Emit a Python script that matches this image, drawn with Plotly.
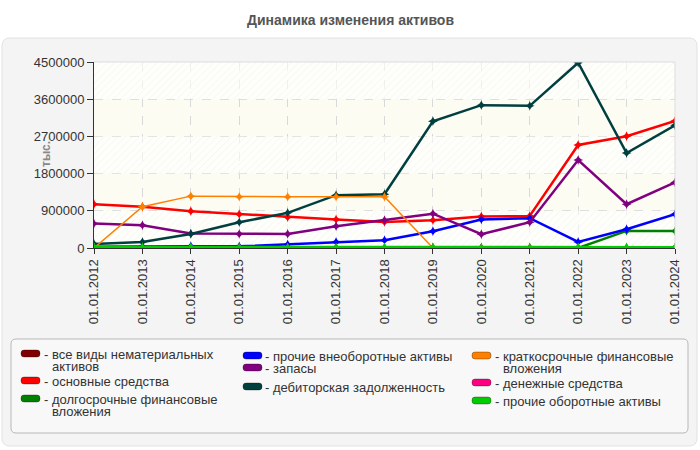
import textwrap
import plotly.graph_objects as go

# ---- data ----
dates = ["01.01.2012", "01.01.2013", "01.01.2014", "01.01.2015", "01.01.2016",
         "01.01.2017", "01.01.2018", "01.01.2019", "01.01.2020", "01.01.2021",
         "01.01.2022", "01.01.2023", "01.01.2024"]

intangible = [0, 0, 0, 0, 0, 0, 0, 0, 0, 0, 0, 0, 0]
fixed_assets = [1060000, 1000000, 890000, 818000, 745000, 690000, 631000,
                672000, 762000, 777000, 2493000, 2704000, 3075000]
long_fin = [0, 0, 0, 0, 0, 0, 0, 0, 0, 0, 0, 413000, 410000]
other_noncurrent = [30000, 40000, 45000, 40000, 90000, 146000, 187000,
                    405000, 689000, 721000, 146000, 454000, 818000]
inventory = [592000, 551000, 350000, 340000, 340000, 527000, 672000,
             830000, 333000, 624000, 2129000, 1060000, 1587000]
receivables = [97000, 146000, 340000, 624000, 850000, 1279000, 1303000,
               3068000, 3456000, 3439000, 4483000, 2298000, 2970000]
short_fin = [0, 1000000, 1255000, 1238000, 1238000, 1238000, 1238000,
             0, 0, 0, 0, 0, 0]
cash = [8000, 8000, 8000, 8000, 8000, 8000, 8000, 8000, 8000, 8000, 8000, 8000, 8000]
other_current = [20000, 20000, 18000, 15000, 15000, 15000, 15000,
                 15000, 15000, 15000, 15000, 15000, 15000]

series_names = ["все виды нематериальных активов", "основные средства",
                "долгосрочные финансовые вложения", "прочие внеоборотные активы",
                "запасы", "дебиторская задолженность",
                "краткосрочные финансовые вложения", "денежные средства",
                "прочие оборотные активы"]
series_values = [intangible, fixed_assets, long_fin, other_noncurrent, inventory,
                 receivables, short_fin, cash, other_current]

y_ticks = [0, 900000, 1800000, 2700000, 3600000, 4500000]

# ---- styling ----
COLORS = ["#800000", "#ff0000", "#008000", "#0000ff", "#800080",
          "#003f3f", "#ff8000", "#ff0080", "#00cc00"]
WIDTHS = [2, 2.5, 2.5, 2.5, 2.5, 2.5, 1.5, 2, 3]
FONT = "Liberation Sans"

# plot area in pixels
L, R, T, B = 94, 25, 62, 202
PW, PH = 700 - L - R, 450 - T - B


def px(x):
    return (x - L) / PW


def py(y):
    return (450 - B - y) / PH


def rounded(x0, y0, x1, y1, r):
    # rounded rectangle path in paper coords, r in pixels
    rx, ry = r / PW, r / PH
    a, b, c, d = px(x0), py(y0), px(x1), py(y1)
    return (f"M{a + rx},{b} L{c - rx},{b} Q{c},{b} {c},{b - ry} "
            f"L{c},{d + ry} Q{c},{d} {c - rx},{d} L{a + rx},{d} "
            f"Q{a},{d} {a},{d + ry} L{a},{b - ry} Q{a},{b} {a + rx},{b} Z")


idx = list(range(len(dates)))
fig = go.Figure()

# hatched background bands
band_step = y_ticks[1] - y_ticks[0]
fig.add_trace(go.Bar(
    x=[idx[-1] / 2] * 3, y=[band_step] * 3, base=[y_ticks[0], y_ticks[2], y_ticks[4]],
    width=idx[-1] + 1,
    marker=dict(color="rgba(255,255,255,0)", line=dict(width=0),
                pattern=dict(shape="/", fgcolor="#e6e6e6", bgcolor="rgba(255,255,255,0.6)",
                             size=5, solidity=0.15)),
    hoverinfo="skip", showlegend=False,
))

for name, vals, col, w in zip(series_names, series_values, COLORS, WIDTHS):
    fig.add_trace(go.Scatter(
        x=idx, y=vals, name=name, mode="lines+markers",
        line=dict(color=col, width=w),
        marker=dict(symbol="star-diamond", size=7, color=col),
        showlegend=False,
    ))

shapes = [
    # outer panel
    dict(type="path", xref="paper", yref="paper", path=rounded(2, 38, 697, 446, 8),
         fillcolor="#f4f4f4", line=dict(color="#e2e2e2", width=1), layer="below"),
    # plot background (panel shape would hide plot_bgcolor)
    dict(type="rect", xref="paper", yref="paper", x0=0, y0=0, x1=1, y1=1,
         fillcolor="#fcfcf3", line=dict(width=0), layer="below"),
    # legend box
    dict(type="path", xref="paper", yref="paper", path=rounded(11, 339, 688, 433, 5),
         fillcolor="#f8f8f8", line=dict(color="#b8b8b8", width=1), layer="below"),
    # light top / right border of plot
    dict(type="path", xref="paper", yref="paper", path="M0,1 L1,1 L1,0",
         line=dict(color="#dddddd", width=1), layer="above"),
]

annotations = [
    dict(text="<b>Динамика изменения активов</b>", xref="paper", yref="paper",
         x=px(350), y=py(20), xanchor="center", yanchor="middle", showarrow=False,
         font=dict(size=14, color="#555555")),
    dict(text="<b>тыс.</b>", xref="paper", yref="paper", x=px(46), y=py(154),
         xanchor="center", yanchor="middle", textangle=-90, showarrow=False,
         font=dict(size=12, color="#888888")),
]

# manual legend laid out in three columns
swatch_x = [21, 243, 472]
text_x = [42, 263, 493]
wrap_w = [24, 30, 24]
row_y = [[354, 381, 399], [356, 368, 387], [356, 383, 401]]
for i, (name, col) in enumerate(zip(series_names, COLORS)):
    c, r = divmod(i, 3)
    y0 = row_y[c][r]
    shapes.append(dict(type="path", xref="paper", yref="paper",
                       path=rounded(swatch_x[c], y0 - 4, swatch_x[c] + 19, y0 + 3, 3),
                       fillcolor=col, line=dict(color="rgba(0,0,0,0.3)", width=1)))
    for k, line in enumerate(textwrap.wrap(name, wrap_w[c])):
        txt = ("- " + line) if k == 0 else line
        annotations.append(dict(text=txt, xref="paper", yref="paper",
                                x=px(text_x[c] + (0 if k == 0 else 8)), y=py(y0 + 12 * k),
                                xanchor="left", yanchor="middle", showarrow=False,
                                font=dict(size=13, color="#333333")))

fig.update_layout(
    width=700, height=450,
    margin=dict(l=L, r=R, t=T, b=B),
    paper_bgcolor="white", plot_bgcolor="rgba(0,0,0,0)",
    font=dict(family=FONT, size=13, color="#333333"),
    barmode="overlay", showlegend=False,
    shapes=shapes, annotations=annotations,
    xaxis=dict(range=[idx[0], idx[-1]], tickvals=idx, ticktext=dates, tickangle=-90,
               showgrid=True, gridcolor="#d9d9d9", griddash="dash", zeroline=False,
               showline=True, linecolor="#333333", ticks="outside", ticklen=5,
               tickcolor="#333333", tickfont=dict(size=13, color="#333333")),
    yaxis=dict(range=[y_ticks[0], y_ticks[-1]], tickvals=y_ticks, tickformat="d",
               showgrid=True, gridcolor="#d9d9d9", griddash="dash", zeroline=False,
               showline=True, linecolor="#333333", ticks="outside", ticklen=6,
               tickcolor="#333333", tickfont=dict(size=13, color="#333333")),
)

fig.write_html("out.html", config={"displayModeBar": False},
               post_script="document.body.style.margin='0';")
